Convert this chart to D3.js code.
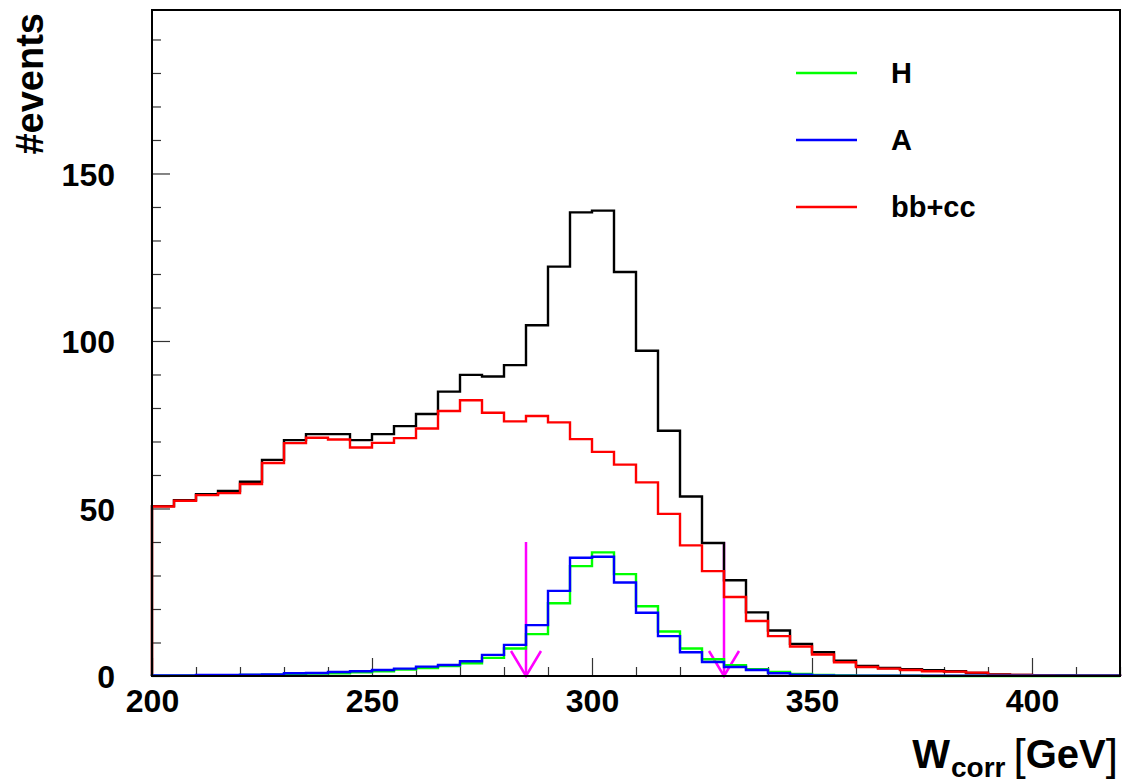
<!DOCTYPE html>
<html>
<head>
<meta charset="utf-8">
<script src="https://cdn.jsdelivr.net/npm/d3@7"></script>
<style>
  body { margin: 0; background: #fff; }
  text { font-family: "Liberation Sans", Arial, Helvetica, sans-serif; font-weight: bold; }
</style>
</head>
<body>
<div id="chart-area"></div>
<script>
// bin lower edges, 5 GeV wide
const binEdges = d3.range(200, 420, 5);

const total = [50.7, 52.5, 54.3, 55.2, 58.0, 64.5, 70.4, 72.2, 72.2, 70.4,
  72.2, 74.6, 78.2, 84.9, 89.9, 89.4, 92.8, 104.7, 122.2, 138.4,
  138.9, 120.6, 97.1, 73.2, 53.6, 39.7, 28.6, 19.0, 13.6, 9.6,
  7.1, 4.6, 3.0, 2.4, 2.0, 1.7, 1.4, 0.9, 0.5, 0.3,
  0.2, 0.2, 0.1, 0.1];

const bbcc = [50.6, 52.3, 54.0, 54.6, 57.3, 63.6, 69.5, 71.1, 70.6, 68.2,
  69.6, 71.0, 73.9, 79.1, 82.3, 78.6, 76.0, 77.6, 75.7, 70.7,
  66.9, 63.1, 57.8, 48.4, 39.0, 31.3, 23.6, 16.4, 11.9, 8.8,
  6.4, 4.1, 2.7, 2.2, 1.8, 1.4, 1.3, 1.0, 0.4, 0.3,
  0.2, 0.1, 0.1, 0.1];

const higgsH = [0.1, 0.1, 0.2, 0.2, 0.3, 0.4, 0.6, 0.7, 0.8, 1.1,
  1.4, 1.9, 2.4, 3.0, 3.8, 5.4, 8.2, 12.5, 21.7, 32.8,
  36.9, 30.4, 20.8, 13.3, 8.2, 5.0, 3.2, 2.0, 1.2, 0.6,
  0.3, 0.2, 0.1, 0.1, 0.1, 0.0, 0.0, 0.0, 0.0, 0.0,
  0.0, 0.0, 0.0, 0.0];

const higgsA = [0.2, 0.2, 0.3, 0.3, 0.4, 0.5, 0.8, 0.9, 1.2, 1.4,
  1.8, 2.2, 2.8, 3.3, 4.4, 6.3, 9.3, 15.2, 25.4, 35.3,
  35.6, 27.9, 18.9, 11.9, 7.1, 4.2, 2.7, 1.8, 0.8, 0.4,
  0.2, 0.1, 0.1, 0.1, 0.1, 0.1, 0.1, 0.1, 0.1, 0.1,
  0.1, 0.1, 0.1, 0.1];

// mass window cuts (arrows)
const cuts = [285, 330];
const arrowTop = 40;

const xTicks = [200, 250, 300, 350, 400];
const yTicks = [0, 50, 100, 150];

const legendEntries = [
  { label: 'H', color: '#00ff00' },
  { label: 'A', color: '#0000ff' },
  { label: 'bb+cc', color: '#ff0000' }
];

const W = 1123, H = 783;
const frame = { left: 152, right: 1120, top: 10, bottom: 676 };

const svg = d3.select('#chart-area')
  .append('svg')
  .attr('width', W)
  .attr('height', H);

const x = d3.scaleLinear().domain([200, 420]).range([frame.left, frame.right]);
const y = d3.scaleLinear().domain([0, 198.8]).range([frame.bottom, frame.top]);

// minor ticks every 10
const minorX = d3.range(200, 421, 10).filter(v => !xTicks.includes(v));
const minorY = d3.range(0, 199, 10).filter(v => !yTicks.includes(v));

// x axis
svg.append('g')
  .attr('transform', `translate(0, ${frame.bottom})`)
  .call(d3.axisBottom(x).tickValues(minorX).tickSize(-9).tickFormat(''))
  .call(g => g.select('.domain').remove());
svg.append('g')
  .attr('transform', `translate(0, ${frame.bottom})`)
  .call(d3.axisBottom(x).tickValues(xTicks).tickSize(-18).tickPadding(13).tickFormat(d3.format('d')))
  .call(g => g.select('.domain').remove())
  .call(g => g.selectAll('text').attr('font-size', 32).attr('fill', '#000'));

// y axis
svg.append('g')
  .attr('transform', `translate(${frame.left}, 0)`)
  .call(d3.axisLeft(y).tickValues(minorY).tickSize(-9).tickFormat(''))
  .call(g => g.select('.domain').remove());
svg.append('g')
  .attr('transform', `translate(${frame.left}, 0)`)
  .call(d3.axisLeft(y).tickValues(yTicks).tickSize(-18).tickPadding(37).tickFormat(d3.format('d')))
  .call(g => g.select('.domain').remove())
  .call(g => g.selectAll('text').attr('font-size', 32).attr('fill', '#000').attr('dy', '0.36em'));

svg.selectAll('.tick line').attr('stroke', '#333').attr('stroke-width', 1.2);

// cut arrows, under the histograms
cuts.forEach(c => {
  const cx = x(c), by = y(0);
  svg.append('line')
    .attr('x1', cx).attr('x2', cx)
    .attr('y1', y(arrowTop)).attr('y2', by)
    .attr('stroke', '#ff00ff').attr('stroke-width', 2.5);
  svg.append('path')
    .attr('d', `M${cx - 15},${by - 25} L${cx},${by} L${cx + 15},${by - 25}`)
    .attr('fill', 'none')
    .attr('stroke', '#ff00ff').attr('stroke-width', 2.5);
});

// histogram outline
const histLine = d3.line()
  .x(d => x(d[0]))
  .y(d => y(d[1]))
  .curve(d3.curveStepAfter);

const histPoints = vals => [[200, 0]]
  .concat(binEdges.map((e, i) => [e, vals[i]]))
  .concat([[420, 0]]);

const series = [
  { vals: total, color: '#000000' },
  { vals: bbcc, color: '#ff0000' },
  { vals: higgsH, color: '#00ff00' },
  { vals: higgsA, color: '#0000ff' }
];

series.forEach(s => {
  svg.append('path')
    .datum(histPoints(s.vals))
    .attr('d', histLine)
    .attr('fill', 'none')
    .attr('stroke', s.color)
    .attr('stroke-width', 2.4);
});

// frame
svg.append('rect')
  .attr('x', frame.left)
  .attr('y', frame.top)
  .attr('width', frame.right - frame.left)
  .attr('height', frame.bottom - frame.top)
  .attr('fill', 'none')
  .attr('stroke', '#000')
  .attr('stroke-width', 2);

// legend
const legend = svg.append('g');
legendEntries.forEach((e, i) => {
  const ly = 73 + i * 67;
  legend.append('line')
    .attr('x1', 796).attr('x2', 857)
    .attr('y1', ly).attr('y2', ly)
    .attr('stroke', e.color).attr('stroke-width', 2.4);
  legend.append('text')
    .attr('x', 891).attr('y', ly)
    .attr('dy', '0.36em')
    .attr('font-size', 29)
    .text(e.label);
});

// axis titles
svg.append('text')
  .attr('transform', 'translate(43, 13) rotate(-90)')
  .attr('text-anchor', 'end')
  .attr('font-size', 38)
  .text('#events');

const xTitle = svg.append('text')
  .attr('x', 1118)
  .attr('y', 768)
  .attr('text-anchor', 'end')
  .attr('font-size', 40);
xTitle.append('tspan').text('W');
xTitle.append('tspan').attr('font-size', 28).attr('dy', 9).attr('dx', 1).text('corr');
xTitle.append('tspan').attr('dy', -7).attr('dx', 8).attr('font-size', 44).attr('font-weight', 'normal').text('[');
xTitle.append('tspan').attr('dy', -2).text('GeV');
xTitle.append('tspan').attr('dy', 2).attr('font-size', 44).attr('font-weight', 'normal').text(']');
</script>
</body>
</html>
